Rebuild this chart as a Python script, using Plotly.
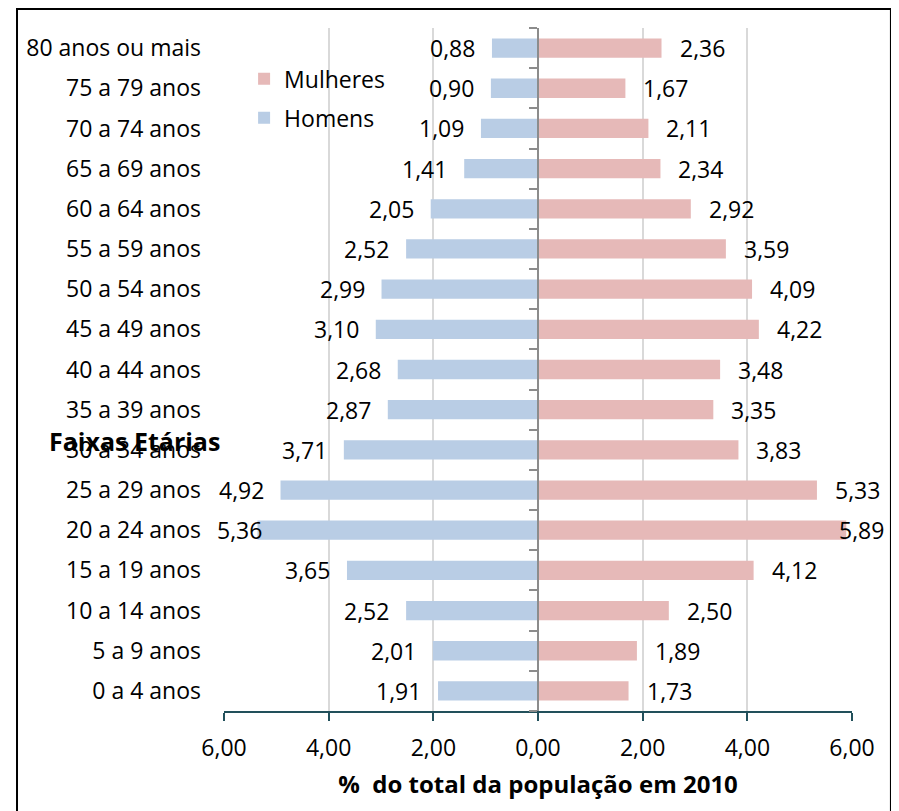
import plotly.graph_objects as go

categories = ["0 a 4 anos", "5 a 9 anos", "10 a 14 anos", "15 a 19 anos", "20 a 24 anos",
              "25 a 29 anos", "30 a 34 anos", "35 a 39 anos", "40 a 44 anos", "45 a 49 anos",
              "50 a 54 anos", "55 a 59 anos", "60 a 64 anos", "65 a 69 anos", "70 a 74 anos",
              "75 a 79 anos", "80 anos ou mais"]
homens = [1.91, 2.01, 2.52, 3.65, 5.36, 4.92, 3.71, 2.87, 2.68, 3.10, 2.99, 2.52, 2.05, 1.41, 1.09, 0.90, 0.88]
mulheres = [1.73, 1.89, 2.50, 4.12, 5.89, 5.33, 3.83, 3.35, 3.48, 4.22, 4.09, 3.59, 2.92, 2.34, 2.11, 1.67, 2.36]
tick_vals = [-6, -4, -2, 0, 2, 4, 6]
tick_text = ["6,00", "4,00", "2,00", "0,00", "2,00", "4,00", "6,00"]

FONT = "Open Sans"
FS = 23
C_H = "#B9CDE5"
C_M = "#E6B9B8"

def fmt(v):
    return f"{v:.2f}".replace(".", ",")

fig = go.Figure()
fig.add_trace(go.Bar(name="Mulheres", y=categories, x=mulheres, orientation="h",
                     marker=dict(color=C_M, line=dict(width=0)), yaxis="y2",
                     legendgroup="m", hoverinfo="skip"))
fig.add_trace(go.Bar(name="Homens", y=categories, x=[-v for v in homens], orientation="h",
                     marker=dict(color=C_H, line=dict(width=0)), yaxis="y",
                     legendgroup="h", hoverinfo="skip"))

annotations = []
for c, v in zip(categories, homens):
    annotations.append(dict(x=max(-v, -4.95), y=c, xref="x", yref="y", text=fmt(v),
                            showarrow=False, xanchor="right", yanchor="middle", xshift=-15,
                            font=dict(family=FONT, size=FS, color="black")))
for c, v in zip(categories, mulheres):
    annotations.append(dict(x=min(v, 5.4), y=c, xref="x", yref="y", text=fmt(v),
                            showarrow=False, xanchor="left", yanchor="middle", xshift=16,
                            font=dict(family=FONT, size=FS, color="black")))
annotations.append(dict(x=-0.143, y=0.395, xref="paper", yref="paper", text="<b>Faixas Etárias</b>",
                        showarrow=False, xanchor="center", yanchor="middle",
                        font=dict(family=FONT, size=25, color="black")))

fig.update_layout(
    width=891, height=803,
    margin=dict(l=216, r=47, t=20, b=100),
    paper_bgcolor="white", plot_bgcolor="white",
    font=dict(family=FONT, size=FS, color="black"),
    bargap=0.52,
    barmode="overlay",
    showlegend=True,
    legend=dict(x=0.032, y=0.957, xanchor="left", yanchor="top", bgcolor="rgba(0,0,0,0)",
                traceorder="grouped", tracegroupgap=6, font=dict(size=FS)),
    xaxis=dict(range=[-6, 6], tickvals=tick_vals, ticktext=tick_text, showgrid=True,
               gridcolor="#D9D9D9", gridwidth=2, zeroline=False, showline=True,
               linecolor="#22505B", linewidth=2, ticks="outside", ticklen=8, tickwidth=2,
               tickcolor="#22505B", tickfont=dict(size=FS), fixedrange=True,
               ticklabelstandoff=7,
               title=dict(text="<b>%\u00a0 do total da população em 2010</b>",
                          font=dict(size=24), standoff=15)),
    yaxis=dict(type="category", categoryorder="array", categoryarray=categories,
               range=[-0.5, 16.5], anchor="free", position=0.5, showticklabels=False,
               tickson="boundaries", ticks="outside", ticklen=8, tickwidth=2, tickcolor="#8C8C8C",
               showline=True, linecolor="#8C8C8C", linewidth=2, showgrid=False, zeroline=False),
    yaxis2=dict(type="category", categoryorder="array", categoryarray=categories,
                range=[-0.5, 16.5], overlaying="y", anchor="free", position=0, side="left",
                showticklabels=True, ticks="", showline=False, showgrid=False, zeroline=False,
                ticklabelstandoff=23, tickfont=dict(size=FS)),
    annotations=annotations,
    shapes=[dict(type="rect", xref="paper", yref="paper", x0=-0.3296, x1=1.062, y0=-0.2, y1=1.0278,
                 line=dict(color="black", width=2), fillcolor="rgba(0,0,0,0)", layer="above")],
)

fig.write_html("out.html")
